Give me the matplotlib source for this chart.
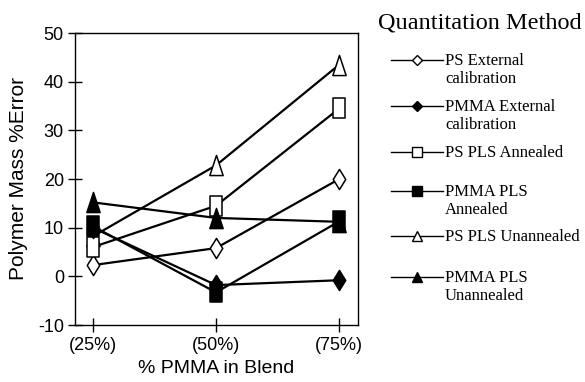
import matplotlib
matplotlib.use("Agg")
import matplotlib.pyplot as plt
from matplotlib.path import Path
from matplotlib.lines import Line2D

# Data
blend_labels = ["(25%)", "(50%)", "(75%)"]
ps_external = [2.3, 5.8, 20.0]
pmma_external = [10.0, -1.8, -0.8]
ps_pls_annealed = [6.0, 14.5, 34.5]
pmma_pls_annealed = [10.3, -3.3, 11.3]
ps_pls_unannealed = [8.2, 22.8, 43.5]
pmma_pls_unannealed = [15.2, 12.0, 11.2]

legend_labels = ["PS External\ncalibration", "PMMA External\ncalibration",
                 "PS PLS Annealed", "PMMA PLS\nAnnealed",
                 "PS PLS Unannealed", "PMMA PLS\nUnannealed"]

y_ticks = [-10, 0, 10, 20, 30, 40, 50]

# Tall marker shapes used on the plot
tall_diamond = Path([(0, -0.5), (0.31, 0), (0, 0.5), (-0.31, 0), (0, -0.5)],
                    [Path.MOVETO, Path.LINETO, Path.LINETO, Path.LINETO, Path.CLOSEPOLY])
tall_square = Path([(-0.3, -0.5), (0.3, -0.5), (0.3, 0.5), (-0.3, 0.5), (-0.3, -0.5)],
                   [Path.MOVETO, Path.LINETO, Path.LINETO, Path.LINETO, Path.CLOSEPOLY])
tall_triangle = Path([(-0.33, -0.5), (0.33, -0.5), (0, 0.5), (-0.33, -0.5)],
                     [Path.MOVETO, Path.LINETO, Path.LINETO, Path.CLOSEPOLY])

series = [
    (ps_external, tall_diamond, "D", "white"),
    (pmma_external, tall_diamond, "D", "black"),
    (ps_pls_annealed, tall_square, "s", "white"),
    (pmma_pls_annealed, tall_square, "s", "black"),
    (ps_pls_unannealed, tall_triangle, "^", "white"),
    (pmma_pls_unannealed, tall_triangle, "^", "black"),
]
# draw order of markers (later = on top)
marker_order = [4, 0, 2, 1, 5, 3]

sans = ["Liberation Sans", "DejaVu Sans"]
serif = ["Liberation Serif", "DejaVu Serif"]

fig = plt.figure(figsize=(5.85, 3.82), dpi=100)
ax = fig.add_axes([75 / 585, 1 - 325 / 382, (358 - 75) / 585, (325 - 33) / 382])

x = list(range(len(blend_labels)))
for vals, _, _, _ in series:
    ax.plot(x, vals, color="black", lw=1.6, zorder=2, solid_capstyle="butt")
for i in marker_order:
    vals, mk, _, fc = series[i]
    ax.plot(x, vals, linestyle="none", marker=mk, ms=14.5, mfc=fc,
            mec="black", mew=1.1, zorder=3 + marker_order.index(i))

ax.set_xlim(-0.144, 2.152)
ax.set_ylim(-10, 50)
ax.set_xticks(x)
ax.set_xticklabels(blend_labels, fontfamily=sans, fontsize=13)
ax.set_yticks(y_ticks)
ax.set_yticklabels([str(v) for v in y_ticks], fontfamily=sans, fontsize=13)
ax.tick_params(direction="inout", length=10, width=1.0, pad=3)
ax.tick_params(axis="x", pad=4)
for sp in ax.spines.values():
    sp.set_linewidth(1.0)

ax.set_xlabel("% PMMA in Blend", fontfamily=sans, fontsize=14, labelpad=4)
ax.set_ylabel("Polymer Mass %Error", fontfamily=sans, fontsize=15, labelpad=7)

# Legend drawn at figure level
W, H = 585.0, 382.0
fig.text(378 / W, 1 - 23 / H, "Quantitation Method", fontfamily=serif,
         fontsize=17.5, ha="left", va="center")
entry_y = [60, 106, 152, 191, 236, 277]
for (vals, _, std_mk, fc), label, yy in zip(series, legend_labels, entry_y):
    fy = 1 - yy / H
    fig.add_artist(Line2D([391 / W, 443 / W], [fy, fy], color="black", lw=1.0,
                          transform=fig.transFigure))
    fig.add_artist(Line2D([417 / W], [fy], marker=std_mk, ms=6.5 if std_mk != "D" else 5.5,
                          mfc=fc, mec="black", mew=1.0, linestyle="none",
                          transform=fig.transFigure))
    fig.text(445 / W, fy + 7 / H, label, fontfamily=serif, fontsize=12,
             ha="left", va="top", linespacing=1.2)

fig.savefig("out.png", dpi=100)
